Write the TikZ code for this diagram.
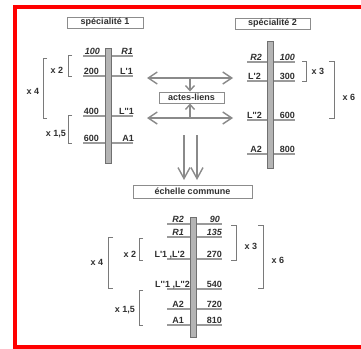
\documentclass[tikz,border=0pt]{standalone}
\usepackage{fontspec}
\setmainfont{Liberation Sans}
\usetikzlibrary{arrows.meta}
\definecolor{txt}{HTML}{303030}
\definecolor{tickc}{HTML}{9A9A9A}
\definecolor{barfill}{HTML}{B4B4B4}
\definecolor{bardraw}{HTML}{707070}
\definecolor{brkc}{HTML}{7A7A7A}
\definecolor{arrc}{HTML}{8A8A8A}
\definecolor{boxc}{HTML}{8C8C8C}
\newcommand{\ap}{\textquotesingle}
\newcommand{\fsz}{\fontsize{9}{10}\selectfont}
\begin{document}
\begin{tikzpicture}[x=1pt,y=-1pt,
  lbl/.style={font=\bfseries\fsz, text=txt, inner sep=0pt, anchor=base east},
  ilbl/.style={lbl, font=\bfseries\itshape\fsz},
  mul/.style={font=\bfseries\fsz, text=txt, inner sep=0pt},
  tickln/.style={draw=tickc, line width=1.8pt},
  barst/.style={draw=bardraw, fill=barfill, line width=0.7pt, minimum width=6pt, inner sep=0pt},
  brk/.style={draw=brkc, line width=0.8pt},
  box/.style={draw=boxc, fill=white, line width=0.9pt, inner sep=0pt, font=\bfseries\fsz, text=txt},
  arr/.style={draw=arrc, line width=1.4pt},
  bigtip/.style={arrows={Straight Barb[length=9pt,width=12pt]-Straight Barb[length=9pt,width=12pt]}},
  smalltip/.style={-{Straight Barb[length=5pt,width=9pt]}},
  downtip/.style={-{Straight Barb[length=11pt,width=12pt]}}
]
\useasboundingbox (0,0) rectangle (361,348);
\clip (0,0) rectangle (361,348);
\fill[white] (0,0) rectangle (361,348);
\draw[red, line width=4pt] (380,7) -- (15,7) -- (15,347) -- (380,347);

% ---------- title boxes ----------
\node[box, minimum width=76pt, minimum height=11pt] (s1) at (105,22.5) {spécialité 1};
\node[box, minimum width=75pt, minimum height=11pt] (s2) at (272.5,23.5) {spécialité 2};

% ---------- bar 1 ----------
\foreach \y in {56,76,116,143} \draw[tickln] (83,\y) -- (133,\y);
\node[barst, minimum height=115pt] (b1) at (108,105.5) {};
\node[ilbl] (n11) at (100,54.5) {100};
\node[lbl]  (n12) at (99,74.5) {200};
\node[lbl]  (n13) at (99,114.5) {400};
\node[lbl]  (n14) at (99,141.5) {600};
\node[ilbl] (r11) at (133,54.5) {R1};
\node[lbl]  (r12) at (133,74.5) {L\ap1};
\node[lbl]  (r13) at (134,114.5) {L\ap\ap1};
\node[lbl]  (r14) at (134,141.5) {A1};
\draw[brk] (72,55) -- (68,55) -- (68,76) -- (72,76);
\node[mul] (m12) at (57,70.5) {x 2};
\draw[brk] (47,58) -- (43,58) -- (43,118) -- (47,118);
\node[mul] (m14) at (33,91) {x 4};
\draw[brk] (72,115) -- (68,115) -- (68,143) -- (72,143);
\node[mul] (m15) at (56,134) {x 1,5};

% ---------- bar 2 ----------
\foreach \y in {62,81,120,154} \draw[tickln] (247,\y) -- (295,\y);
\node[barst, minimum height=127pt] (b2) at (270,104.5) {};
\node[ilbl] (l21) at (262,60.5) {R2};
\node[lbl]  (l22) at (261,79.5) {L\ap2};
\node[lbl]  (l23) at (262,118.5) {L\ap\ap2};
\node[lbl]  (l24) at (262,152.5) {A2};
\node[ilbl] (n21) at (295,60.5) {100};
\node[lbl]  (n22) at (295,79.5) {300};
\node[lbl]  (n23) at (295,118.5) {600};
\node[lbl]  (n24) at (295,152.5) {800};
\draw[brk] (302,61) -- (306,61) -- (306,81) -- (302,81);
\node[mul] (m23) at (318,71) {x 3};
\draw[brk] (329,61) -- (334,61) -- (334,118) -- (329,118);
\node[mul] (m26) at (349,97) {x 6};

% ---------- links ----------
\node[box, minimum width=65pt, minimum height=11pt] (al) at (191.5,97.5) {actes-liens};
\coordinate (ua) at (147,78);
\coordinate (ub) at (233,78);
\coordinate (um) at (190,78);
\coordinate (la) at (147,118);
\coordinate (lb) at (233,118);
\coordinate (lm) at (190,118);
\draw[arr, bigtip] (ua) -- (ub);
\draw[arr, bigtip] (la) -- (lb);
\draw[arr, smalltip] (um) -- (um |- al.north);
\draw[arr, smalltip] (lm) -- (lm |- al.south);

% ---------- down arrows ----------
\node[box, minimum width=119pt, minimum height=13pt] (ec) at (192.5,191.5) {échelle commune};
\coordinate (d1) at (184,135);
\coordinate (d2) at (197,135);
\coordinate (e1) at (184,180);
\coordinate (e2) at (197,180);
\draw[arr, downtip] (d1) -- (e1);
\draw[arr, downtip] (d2) -- (e2);

% ---------- bar 3 ----------
\foreach \y in {224,237,259,289,309,325} \draw[tickln] (167,\y) -- (222,\y);
\node[barst, minimum height=120pt] (b3) at (193.5,277) {};
\node[ilbl] (l31) at (184,222.5) {R2};
\node[ilbl] (l32) at (184,235.5) {R1};
\node[lbl]  (l33) at (185,257.5) {L\ap1 ,L\ap2};
\node[lbl]  (l34) at (190,287.5) {L\ap\ap1 ,L\ap\ap2};
\node[lbl]  (l35) at (184,307.5) {A2};
\node[lbl]  (l36) at (184,323.5) {A1};
\node[ilbl] (n31) at (220,222.5) {90};
\node[ilbl] (n32) at (222,235.5) {135};
\node[lbl]  (n33) at (222,257.5) {270};
\node[lbl]  (n34) at (222,287.5) {540};
\node[lbl]  (n35) at (222,307.5) {720};
\node[lbl]  (n36) at (222,323.5) {810};
\draw[brk] (143,238) -- (139,238) -- (139,260) -- (143,260);
\node[mul] (m32) at (130,254.5) {x 2};
\draw[brk] (113,237) -- (108,237) -- (108,288) -- (113,288);
\node[mul] (m34) at (97,262) {x 4};
\draw[brk] (143,290) -- (139,290) -- (139,325) -- (143,325);
\node[mul] (m35) at (125,310) {x 1,5};
\draw[brk] (231,225) -- (236,225) -- (236,260) -- (231,260);
\node[mul] (m33) at (251,246) {x 3};
\draw[brk] (258,225) -- (263,225) -- (263,288) -- (258,288);
\node[mul] (m36) at (278,260.5) {x 6};
\end{tikzpicture}
\end{document}
